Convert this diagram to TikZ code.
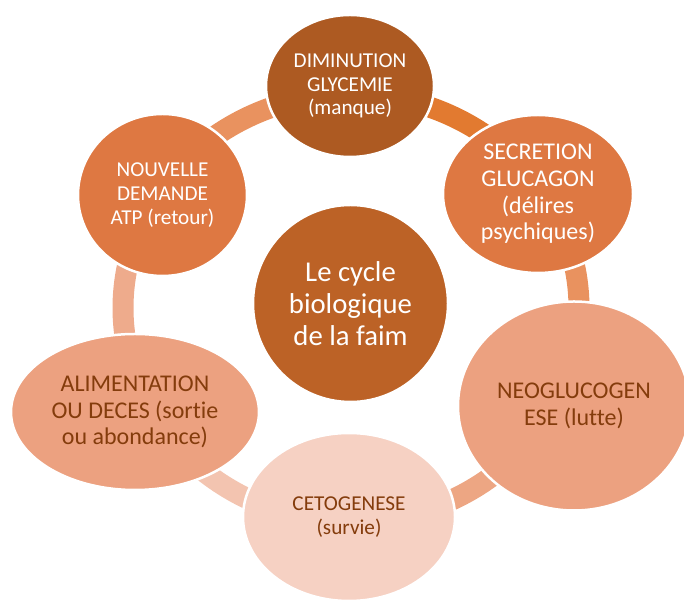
\documentclass[tikz,border=0pt]{standalone}
\usepackage{fontspec}
\setmainfont[Ligatures=NoCommon]{Carlito}
\usetikzlibrary{shapes.geometric,backgrounds}
\definecolor{cTop}{HTML}{AD5A22}
\definecolor{cMid}{HTML}{DE7842}
\definecolor{cLight}{HTML}{ECA180}
\definecolor{cPale}{HTML}{F6D1C3}
\definecolor{cCenter}{HTML}{BC6226}
\definecolor{cText}{HTML}{843C0C}
\definecolor{rA}{HTML}{E27A30}
\definecolor{rB}{HTML}{E9925F}
\definecolor{rC}{HTML}{EDA683}
\definecolor{rD}{HTML}{F3C4B0}
\definecolor{rE}{HTML}{EEAB8C}
\definecolor{rF}{HTML}{E9925F}
\begin{document}
\begin{tikzpicture}[x=1pt,y=1pt,
  bub/.style={ellipse, draw=white, line width=2.5pt, inner sep=0pt, align=center},
  small/.style={font=\fontsize{21.2}{23.6}\selectfont},
  big/.style={font=\fontsize{24}{26.6}\selectfont},
  ringseg/.style={line width=21pt}]
\useasboundingbox (0,0) rectangle (684,601);
\coordinate (rc) at (351,293);
\node[bub, small, fill=cTop, text=white, minimum width=168pt, minimum height=142pt] (dim) at (350,515) {DIMINUTION\\GLYCEMIE\\(manque)};
\node[bub, big, fill=cMid, text=white, minimum width=190pt, minimum height=158pt] (sec) at (538,407) {SECRETION\\GLUCAGON\\(délires\\psychiques)};
\node[bub, big, fill=cLight, text=cText, minimum width=232pt, minimum height=209pt] (neo) at (574,195) {NEOGLUCOGEN\\ESE (lutte)};
\node[bub, small, fill=cPale, text=cText, minimum width=212pt, minimum height=168pt] (ceto) at (349,84) {CETOGENESE\\(survie)};
\node[bub, big, fill=cLight, text=cText, minimum width=248pt, minimum height=156pt] (alim) at (135,189) {ALIMENTATION\\OU DECES (sortie\\ou abondance)};
\node[bub, small, fill=cMid, text=white, minimum width=169pt, minimum height=162pt] (nouv) at (162.5,406) {NOUVELLE\\DEMANDE\\ATP (retour)};
\node[bub, fill=cCenter, text=white, minimum width=195pt, minimum height=197pt, font=\fontsize{28.7}{31.7}\selectfont] (ctr) at (350.5,297.5) {Le cycle\\biologique\\de la faim};
\begin{scope}[on background layer]
\draw[ringseg, draw=rA] ([shift={(90:228pt and 214pt)}]rc) arc[start angle=90, end angle=33, x radius=228pt, y radius=214pt];
\draw[ringseg, draw=rB] ([shift={(33:228pt and 214pt)}]rc) arc[start angle=33, end angle=-25, x radius=228pt, y radius=214pt];
\draw[ringseg, draw=rC] ([shift={(-25:228pt and 214pt)}]rc) arc[start angle=-25, end angle=-90, x radius=228pt, y radius=214pt];
\draw[ringseg, draw=rD] ([shift={(270:228pt and 214pt)}]rc) arc[start angle=270, end angle=207, x radius=228pt, y radius=214pt];
\draw[ringseg, draw=rE] ([shift={(207:228pt and 214pt)}]rc) arc[start angle=207, end angle=147, x radius=228pt, y radius=214pt];
\draw[ringseg, draw=rF] ([shift={(147:228pt and 214pt)}]rc) arc[start angle=147, end angle=90, x radius=228pt, y radius=214pt];
\end{scope}
\end{tikzpicture}
\end{document}
